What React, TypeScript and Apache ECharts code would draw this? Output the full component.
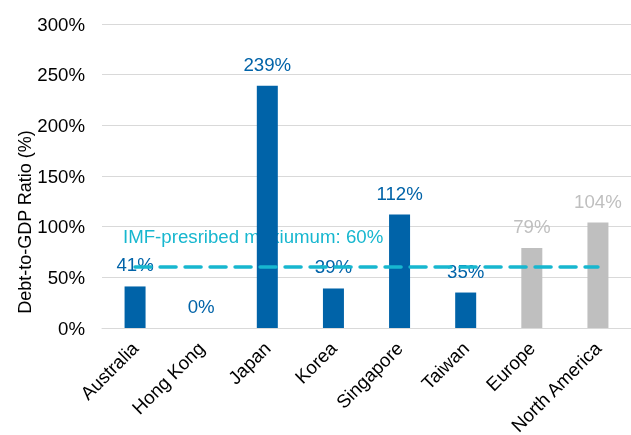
import React, { useEffect, useRef } from "react";
import * as echarts from "echarts";

const categories = ["Australia", "Hong Kong", "Japan", "Korea", "Singapore", "Taiwan", "Europe", "North America"];
const values = [41, 0, 239, 39, 112, 35, 79, 104];
const isAsia = [true, true, true, true, true, true, false, false];
const imfLimit = 60;
const yTicks = { min: 0, max: 300, interval: 50 };

const BLUE = "#0063a8";
const GRAY = "#bfbfbf";
const CYAN = "#17b7cf";
const FONT = "Liberation Sans, Arial, sans-serif";
const FS = 18.67;

export default function App() {
  const ref = useRef<HTMLDivElement>(null);
  useEffect(() => {
    if (!ref.current) return;
    const chart = echarts.init(ref.current, undefined, { renderer: "svg" });
    chart.setOption({
      animation: false,
      textStyle: { fontFamily: FONT },
      grid: { left: 102, right: 0, top: 24, bottom: 107, containLabel: false, outerBoundsMode: "none" },
      xAxis: {
        type: "category",
        data: categories,
        axisTick: { show: false },
        axisLine: { lineStyle: { color: "#d9d9d9", width: 1 } },
        axisLabel: { rotate: 45, margin: 17, fontSize: FS, color: "#000", fontFamily: FONT, interval: 0 },
      },
      yAxis: {
        type: "value",
        min: yTicks.min,
        max: yTicks.max,
        interval: yTicks.interval,
        axisLabel: { formatter: "{value}%", fontSize: FS, color: "#000", margin: 17, fontFamily: FONT },
        splitLine: { lineStyle: { color: "#d9d9d9", width: 1 } },
        axisLine: { show: false },
        axisTick: { show: false },
      },
      graphic: [
        {
          type: "text",
          x: 25,
          y: 222,
          rotation: Math.PI / 2,
          style: {
            text: "Debt-to-GDP Ratio (%)",
            font: `18px ${FONT}`,
            fill: "#000",
            align: "center",
            verticalAlign: "middle",
          },
        },
        {
          type: "text",
          x: 123,
          y: 236,
          style: {
            text: "IMF-presribed maxiumum: " + imfLimit + "%",
            font: `${FS}px ${FONT}`,
            fill: CYAN,
            align: "left",
            verticalAlign: "middle",
          },
        },
      ],
      series: [
        {
          type: "bar",
          barWidth: 21,
          data: values.map((v, i) => ({
            value: v,
            itemStyle: { color: isAsia[i] ? BLUE : GRAY },
            label: { color: isAsia[i] ? BLUE : GRAY },
          })),
          label: {
            show: true,
            position: "top",
            distance: 12,
            formatter: "{c}%",
            fontSize: FS,
            fontFamily: FONT,
          },
          markLine: {
            symbol: "none",
            silent: true,
            label: { show: false },
            lineStyle: { color: CYAN, width: 3.5, type: [16, 9], cap: "round" },
            data: [[{ coord: [categories[0], imfLimit] }, { coord: [categories[categories.length - 1], imfLimit] }]],
          },
        },
      ],
    });
    return () => chart.dispose();
  }, []);
  return <div ref={ref} style={{ position: "fixed", left: 0, top: 0, width: 631, height: 435 }} />;
}
